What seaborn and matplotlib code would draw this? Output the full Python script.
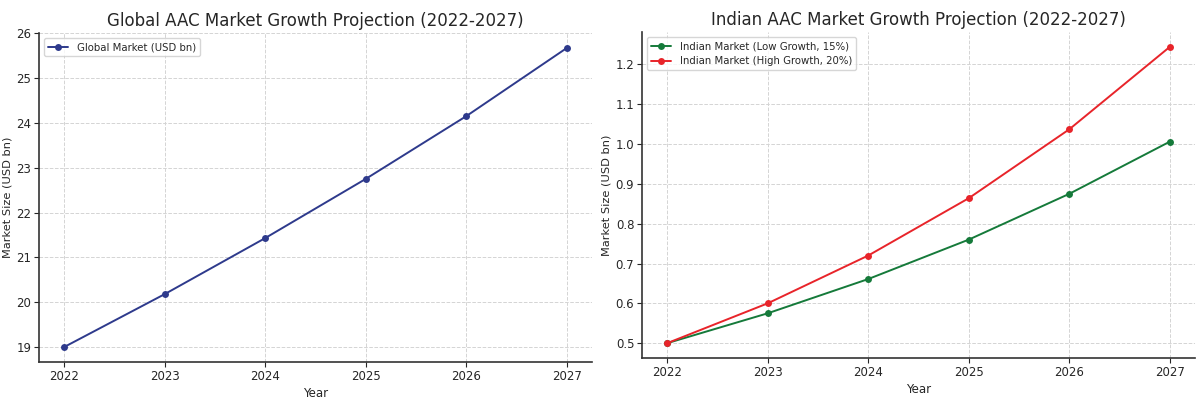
import matplotlib
matplotlib.use("Agg")
import matplotlib.pyplot as plt
import seaborn as sns

years = [2022, 2023, 2024, 2025, 2026, 2027]
global_market = [19.0, 20.18, 21.43, 22.75, 24.15, 25.67]
india_low = [0.500, 0.575, 0.661, 0.760, 0.875, 1.006]
india_high = [0.500, 0.600, 0.720, 0.864, 1.037, 1.244]

sns.set_theme(style="ticks")
plt.rcParams['font.family'] = ['DejaVu Sans']

fig = plt.figure(figsize=(12, 4), dpi=100)
ax = fig.add_axes([39 / 1200, 38 / 400, 553 / 1200, 329 / 400])
ax2 = fig.add_axes([642 / 1200, 42 / 400, 553 / 1200, 326 / 400])

sns.lineplot(x=years, y=global_market, ax=ax, marker="o", color="#2e3a8c",
             markersize=5, markeredgewidth=0, linewidth=1.4, label="Global Market (USD bn)")
ax.set_title("Global AAC Market Growth Projection (2022-2027)", fontsize=12, pad=5)

sns.lineplot(x=years, y=india_low, ax=ax2, marker="o", color="#157a3a",
             markersize=5, markeredgewidth=0, linewidth=1.4, label="Indian Market (Low Growth, 15%)")
sns.lineplot(x=years, y=india_high, ax=ax2, marker="o", color="#e8242a",
             markersize=5, markeredgewidth=0, linewidth=1.4, label="Indian Market (High Growth, 20%)")
ax2.set_title("Indian AAC Market Growth Projection (2022-2027)", fontsize=12, pad=5)

for a in (ax, ax2):
    a.set_xlabel("Year", fontsize=8.5, labelpad=3)
    a.set_ylabel("Market Size (USD bn)", fontsize=8.2, labelpad=3)
    a.set_xticks(years)
    a.tick_params(labelsize=8.5, length=3.5, width=0.8, pad=2)
    a.grid(True, linestyle="--", color="#d4d4d4", linewidth=0.7)
    a.legend(loc="upper left", fontsize=7.3, frameon=True)
    for s in ("left", "bottom"):
        a.spines[s].set_linewidth(1.2)
        a.spines[s].set_color("#333333")
    sns.despine(ax=a)

fig.savefig("out.png", dpi=100)
